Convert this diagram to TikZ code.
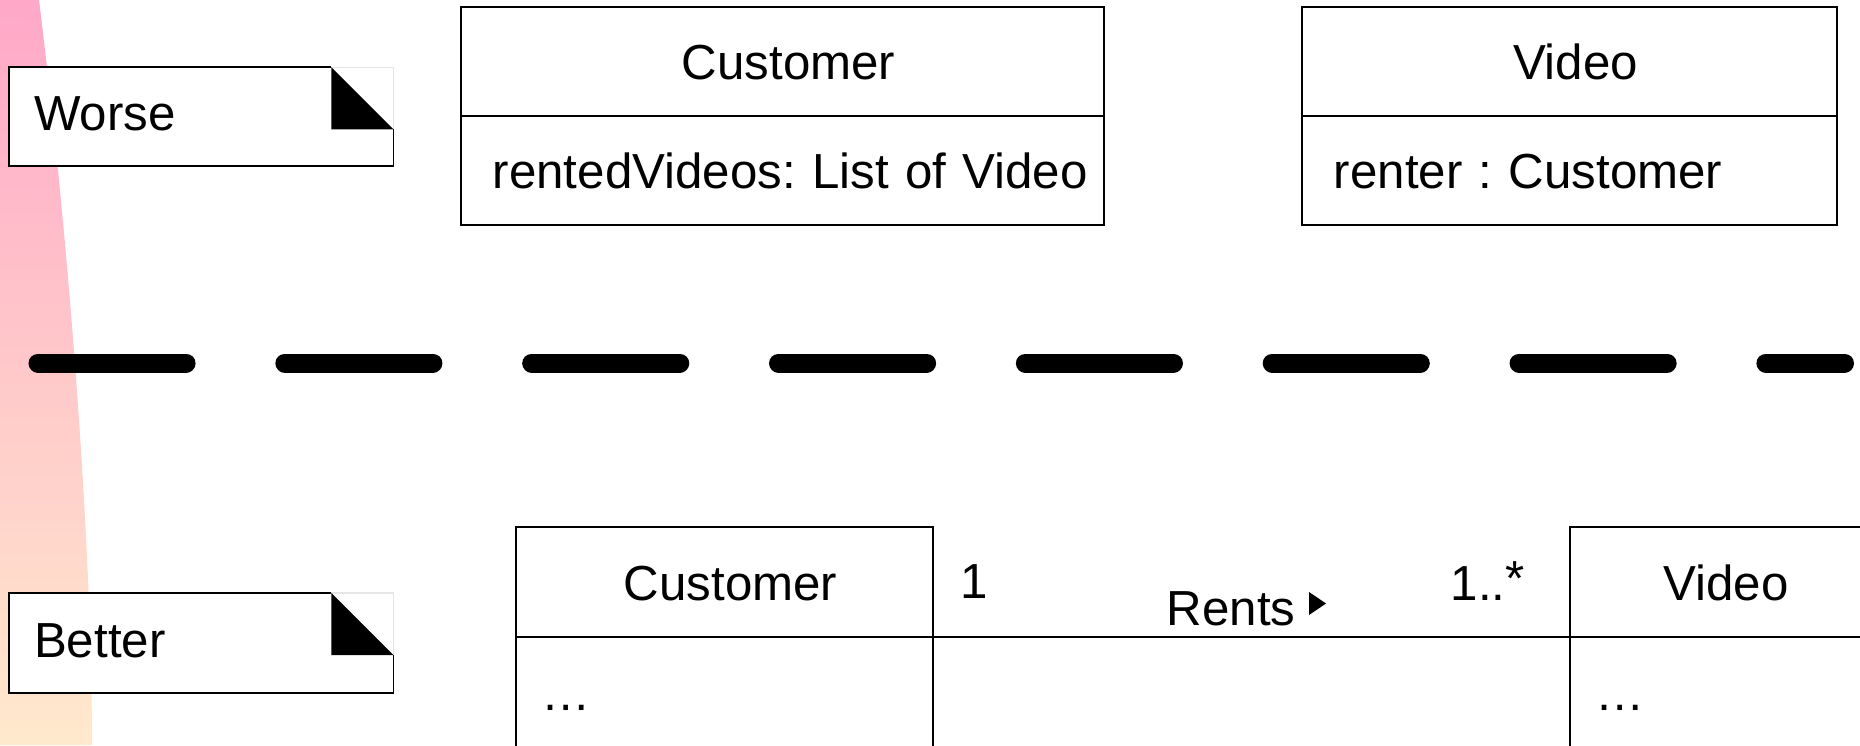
\documentclass[tikz,border=0pt]{standalone}
\usepackage{fontspec}
\setmainfont{Liberation Sans}
\usetikzlibrary{positioning}
\frenchspacing

\definecolor{notepink}{RGB}{255,168,200}
\definecolor{notepeach}{RGB}{255,233,204}

\tikzset{
  umlbox/.style={draw, rectangle, line width=0.45pt, inner sep=0pt, outer sep=0pt,
    minimum height=1.09cm, text height=0.36cm, text depth=0pt,
    font=\fontsize{14}{16}\selectfont},
  umlhead/.style={umlbox, execute at begin node={\hspace*{0.12cm}}},
  umlbody/.style={umlbox, inner xsep=0.26cm, align=left},
  notebox/.style={rectangle, fill=white, inner xsep=0.25cm, inner ysep=0pt, outer sep=0pt,
    minimum height=0.99cm, text width=3.34cm, align=left,
    text height=0.28cm, text depth=0pt, font=\fontsize{14}{16}\selectfont},
  noteline/.style={line width=0.45pt},
  multlabel/.style={anchor=base west, inner sep=0pt, font=\fontsize{14}{16}\selectfont}
}

\begin{document}
\begin{tikzpicture}[x=0.01cm, y=-0.01cm]
  \useasboundingbox (0,0) rectangle (1860,745);
  % background band on the left
  \shade[top color=notepink, bottom color=notepeach]
    (0,0) -- (39,0) .. controls (70,250) and (92,550) .. (92,745) -- (0,745) -- cycle;

  % notes
  \node[notebox] (worse) at (201.25,116.75) {Worse};
  \node[notebox, minimum height=1.00cm] (better) at (201.25,643) {Better};
  \draw[noteline] ([xshift=-0.62cm]worse.north east) -- (worse.north west) -- (worse.south west) -- (worse.south east) -- ([yshift=-0.62cm]worse.north east);
  \draw[black!10] ([xshift=-0.62cm]worse.north east) -- (worse.north east) -- ([yshift=-0.62cm]worse.north east);
  \fill ([xshift=-0.62cm]worse.north east) -- ([xshift=-0.62cm,yshift=-0.62cm]worse.north east) -- ([yshift=-0.62cm]worse.north east) -- cycle;
  \draw[noteline] ([xshift=-0.62cm]better.north east) -- (better.north west) -- (better.south west) -- (better.south east) -- ([yshift=-0.62cm]better.north east);
  \draw[black!10] ([xshift=-0.62cm]better.north east) -- (better.north east) -- ([yshift=-0.62cm]better.north east);
  \fill ([xshift=-0.62cm]better.north east) -- ([xshift=-0.62cm,yshift=-0.62cm]better.north east) -- ([yshift=-0.62cm]better.north east) -- cycle;

  % worse design
  \node[umlhead, minimum width=6.43cm] (custA) at (782.5,61.5) {Customer};
  \node[umlbody, inner xsep=0.32cm, text width=5.79cm, below=0pt of custA] (custAattr) {\mbox{rentedVideos: List of Video}};
  \node[umlhead, minimum width=5.35cm] (videoA) at (1569.5,61.5) {Video};
  \node[umlbody, inner xsep=0.32cm, text width=4.71cm, below=0pt of videoA] (videoAattr) {renter : Customer};

  % separator
  \coordinate (sepL) at (38,363);
  \coordinate (sepR) at (1844.5,363);
  \draw[line width=0.19cm, line cap=round, dash pattern=on 1.48cm off 0.987cm] (sepL) -- (sepR);

  % better design
  \node[umlhead, minimum width=4.17cm, minimum height=1.10cm] (custB) at (724.5,582) {Customer};
  \node[umlbody, text width=3.65cm, minimum height=1.10cm, below=0pt of custB] (custBattr) {…};
  \node[umlhead, minimum width=3.00cm, minimum height=1.10cm] (videoB) at (1720,582) {Video};
  \node[umlbody, text width=2.48cm, minimum height=1.10cm, below=0pt of videoB] (videoBattr) {…};
  \draw[line width=0.45pt] (custB.south east) -- (videoB.south west);

  \node[multlabel] (oneEnd) at (960,598) {1};
  \node[multlabel] (rents) at (1166,625) {Rents};
  \fill (rents.base east) ++(13,-33) -- ++(0,23) -- ++(17,-11.5) -- cycle;
  \node[multlabel] (manyEnd) at (1450,600) {1..\raisebox{0.05cm}{*}};
\end{tikzpicture}
\end{document}
